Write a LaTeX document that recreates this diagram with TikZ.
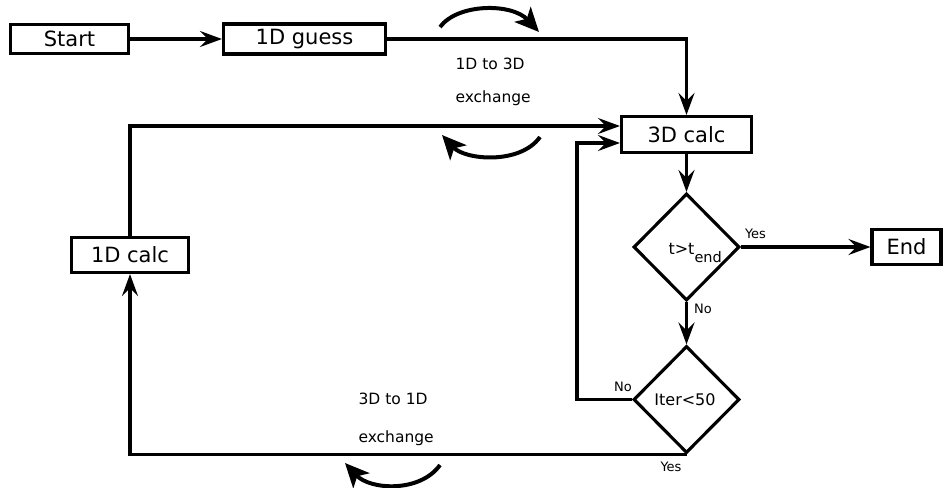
\documentclass[tikz,border=0pt]{standalone}
\usepackage{fontspec}
\setmainfont{DejaVu Sans}
\usetikzlibrary{arrows.meta,shapes.geometric}
\begin{document}
\begin{tikzpicture}[x=1pt,y=-1pt, line width=3.1pt,
  box/.style={draw, rectangle, inner sep=0pt, font=\fontsize{21}{24}\selectfont},
  dia/.style={draw, diamond, inner sep=0pt, minimum width=106pt, minimum height=107pt},
  arr/.style={-{Stealth[length=22pt,width=16pt,inset=8pt]}},
  swoop/.style={line width=4pt, -{Stealth[length=24pt,width=22pt,inset=6pt]}},
  lab/.style={font=\fontsize{13}{15}\selectfont, inner sep=0pt},
  note/.style={font=\fontsize{15.5}{18}\selectfont, inner sep=0pt, anchor=west},
  dtext/.style={inner sep=0pt, font=\fontsize{16}{18}\selectfont}]
\useasboundingbox (0,0) rectangle (944,487);

% boxes
\node[box, minimum width=118pt, minimum height=29.5pt] (start) at (69.5,39) {Start};
\node[box, minimum width=162pt, minimum height=30pt] (guess) at (304.5,39) {1D guess};
\node[box, minimum width=130pt, minimum height=36pt] (calc3) at (686.5,134.5) {3D calc};
\node[box, minimum width=117pt, minimum height=35pt] (calc1) at (130,255) {1D calc};
\node[box, minimum width=69pt, minimum height=35pt] (end) at (906.5,247) {End};

% decisions
\node[dia] (d1) at (686.5,247) {};
\node[dia] (d2) at (686.5,399.5) {};
\node[dtext, anchor=base west] (tt) at (667,254) {t>t\raisebox{-8pt}{\fontsize{14.5}{16}\selectfont end}};
\node[dtext] (it) at (685,400) {Iter<50};

% connectors
\draw[arr] (start.east) -- (start.east -| guess.west);
\draw[arr] (guess.east) -| (calc3.north);
\draw[arr] (calc1.north) |- ([yshift=8.5pt]calc3.west);
\draw[arr] (calc3.south) -- (d1.north);
\draw[arr] (d1.east) -- (d1.east -| end.west);
\draw[arr] (d1.south) -- (d2.north);
\coordinate (lp) at (577,399.5);
\draw[arr] (d2.west) -- (lp) |- ([yshift=-8.5pt]calc3.west);
\draw[arr] (d2.south) -| (calc1.south);

% labels
\node[lab] (yes1) at (755.5,234) {Yes};
\node[lab] (no1) at (703,309) {No};
\node[lab] (no2) at (623,387) {No};
\node[lab] (yes2) at (671,467) {Yes};

\node[note] (n1a) at (454,64) {1D to 3D};
\node[note] (n1b) at (454,98) {exchange};
\node[note] (n2a) at (357,399) {3D to 1D};
\node[note] (n2b) at (357,438) {exchange};

% exchange swoops
\coordinate (s1a) at (440,27); \coordinate (s1b) at (539,32);
\draw[swoop] (s1a) .. controls (458,3) and (512,3) .. (s1b);
\coordinate (s2a) at (540,137); \coordinate (s2b) at (442,135);
\draw[swoop] (s2a) .. controls (520,165) and (465,160) .. (s2b);
\coordinate (s3a) at (440,465); \coordinate (s3b) at (345,463);
\draw[swoop] (s3a) .. controls (420,493) and (370,490) .. (s3b);
\end{tikzpicture}
\end{document}
